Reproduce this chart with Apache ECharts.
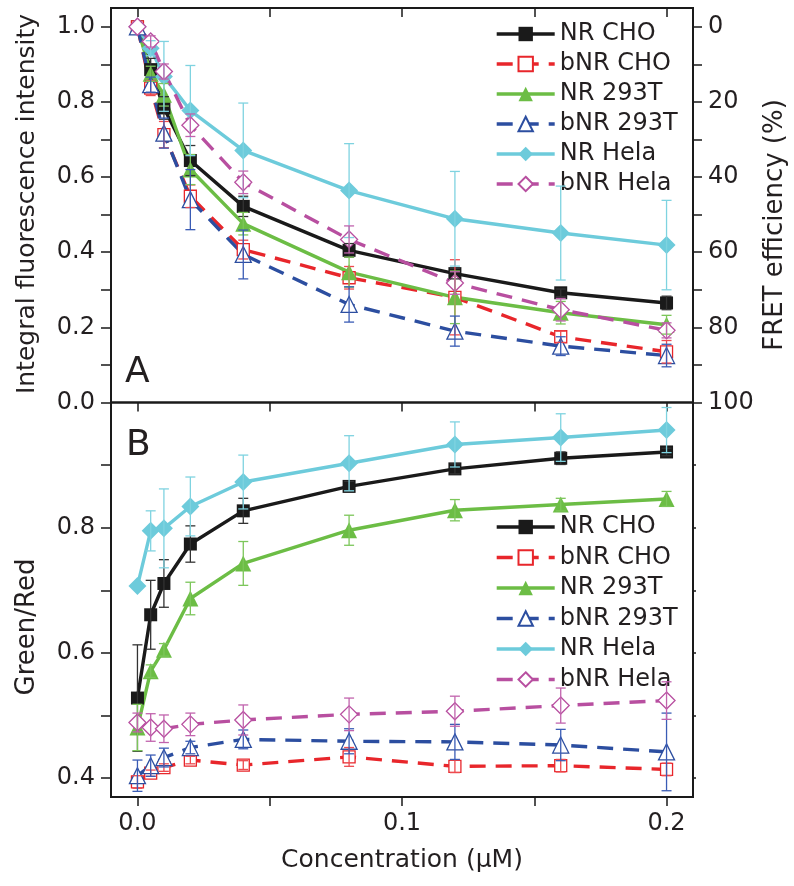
<!DOCTYPE html>
<html><head><meta charset="utf-8">
<script src="https://cdn.jsdelivr.net/npm/echarts@6/dist/echarts.min.js"></script>
<style>html,body{margin:0;padding:0;background:#fff}#c{width:794px;height:886px}</style>
</head><body><div id="c"></div>
<script>
// ---- data ----
const concentration = [0, 0.005, 0.01, 0.02, 0.04, 0.08, 0.12, 0.16, 0.2];
const seriesNames = ['NR CHO', 'bNR CHO', 'NR 293T', 'bNR 293T', 'NR Hela', 'bNR Hela'];

// Panel A: integral fluorescence intensity (mean, error)
const intNRCHO      = [1.0, 0.886, 0.784, 0.644, 0.522, 0.405, 0.343, 0.292, 0.265];
const intNRCHOErr   = [0, 0.03, 0.03, 0.04, 0.027, 0.018, 0.014, 0.01, 0.018];
const intBNRCHO     = [1.0, 0.837, 0.713, 0.549, 0.407, 0.332, 0.280, 0.175, 0.135];
const intBNRCHOErr  = [0, 0.02, 0.035, 0.03, 0.025, 0.03, 0.1, 0.015, 0.03];
const intNR293T     = [1.0, 0.875, 0.819, 0.620, 0.476, 0.347, 0.280, 0.239, 0.207];
const intNR293TErr  = [0, 0.02, 0.03, 0.04, 0.03, 0.04, 0.07, 0.03, 0.025];
const intBNR293T    = [1.0, 0.846, 0.717, 0.540, 0.394, 0.261, 0.190, 0.150, 0.125];
const intBNR293TErr = [0, 0.02, 0.04, 0.08, 0.065, 0.047, 0.04, 0.025, 0.03];
const intNRHela     = [1.0, 0.943, 0.868, 0.777, 0.671, 0.564, 0.489, 0.451, 0.419];
const intNRHelaErr  = [0, 0.02, 0.093, 0.12, 0.126, 0.125, 0.126, 0.125, 0.119];
const intBNRHela    = [1.0, 0.961, 0.881, 0.738, 0.586, 0.434, 0.318, 0.247, 0.192];
const intBNRHelaErr = [0, 0.015, 0.02, 0.03, 0.03, 0.036, 0.03, 0.03, 0.02];

// Panel B: green/red ratio (mean, error)
const grNRCHO      = [0.528, 0.661, 0.711, 0.774, 0.827, 0.866, 0.894, 0.911, 0.921];
const grNRCHOErr   = [0.085, 0.055, 0.038, 0.029, 0.02, 0.008, 0.008, 0.01, 0.006];
const grBNRCHO     = [0.394, 0.408, 0.417, 0.429, 0.421, 0.434, 0.419, 0.420, 0.414];
const grBNRCHOErr  = [0.01, 0.005, 0.006, 0.006, 0.007, 0.015, 0.01, 0.01, 0.01];
const grNR293T     = [0.481, 0.571, 0.605, 0.687, 0.743, 0.796, 0.828, 0.837, 0.846];
const grNR293TErr  = [0.037, 0.01, 0.01, 0.026, 0.035, 0.024, 0.017, 0.01, 0.012];
const grBNR293T    = [0.404, 0.420, 0.433, 0.449, 0.462, 0.459, 0.458, 0.453, 0.442];
const grBNR293TErr = [0.025, 0.017, 0.015, 0.01, 0.015, 0.02, 0.028, 0.025, 0.062];
const grNRHela     = [0.707, 0.795, 0.799, 0.834, 0.873, 0.903, 0.933, 0.944, 0.956];
const grNRHelaErr  = [0, 0.032, 0.063, 0.047, 0.043, 0.044, 0.036, 0.038, 0.036];
const grBNRHela    = [0.489, 0.481, 0.479, 0.486, 0.493, 0.502, 0.507, 0.516, 0.524];
const grBNRHelaErr = [0.015, 0.022, 0.022, 0.018, 0.024, 0.026, 0.024, 0.028, 0.03];

// tick values
const xTickValues = [0, 0.05, 0.1, 0.15, 0.2];
const xLabelValues = [0, 0.1, 0.2];
const intTickValues = [0, 0.1, 0.2, 0.3, 0.4, 0.5, 0.6, 0.7, 0.8, 0.9, 1.0];
const intLabelValues = [0, 0.2, 0.4, 0.6, 0.8, 1.0];
const fretTickValues = [0, 10, 20, 30, 40, 50, 60, 70, 80, 90, 100];
const fretLabelValues = [0, 20, 40, 60, 80, 100];
const grTickValues = [0.4, 0.5, 0.6, 0.7, 0.8, 0.9];
const grLabelValues = [0.4, 0.6, 0.8];

// ---- styles ----
const FONT = "'DejaVu Sans', sans-serif";
const TXT = '#231f20';
const styles = [
  {color: '#1a1a1a', symbol: 'rect', size: 13, dashed: false, hollow: false, err: '#333333'},
  {color: '#e8262b', symbol: 'rect', size: 12, dashed: true, hollow: true, err: '#ee4a4f'},
  {color: '#6cbd45', symbol: 'triangle', size: 16, dashed: false, hollow: false, err: '#7cc65a'},
  {color: '#2c4ea0', symbol: 'triangle', size: 16, dashed: true, hollow: true, err: '#3a5cb5'},
  {color: '#6dcbdb', symbol: 'diamond', size: 18, dashed: false, hollow: false, err: '#7fd3e0'},
  {color: '#b84fa0', symbol: 'diamond', size: 17, dashed: true, hollow: true, err: '#c163ad'}
];
const panelA = [[intNRCHO, intNRCHOErr], [intBNRCHO, intBNRCHOErr], [intNR293T, intNR293TErr],
                [intBNR293T, intBNR293TErr], [intNRHela, intNRHelaErr], [intBNRHela, intBNRHelaErr]];
const panelB = [[grNRCHO, grNRCHOErr], [grBNRCHO, grBNRCHOErr], [grNR293T, grNR293TErr],
                [grBNR293T, grBNR293TErr], [grNRHela, grNRHelaErr], [grBNRHela, grBNRHelaErr]];

function errRender(params, api) {
  const x = api.value(0), lo = api.value(1), hi = api.value(2);
  if (!(hi - lo > 0)) return null;
  const a = api.coord([x, hi]), b = api.coord([x, lo]);
  const w = 5;
  const st = {stroke: api.visual('color'), lineWidth: 1.3};
  return {type: 'group', children: [
    {type: 'line', shape: {x1: a[0], y1: a[1], x2: b[0], y2: b[1]}, style: st},
    {type: 'line', shape: {x1: a[0] - w, y1: a[1], x2: a[0] + w, y2: a[1]}, style: st},
    {type: 'line', shape: {x1: b[0] - w, y1: b[1], x2: b[0] + w, y2: b[1]}, style: st}
  ]};
}

const series = [];
function addPanel(panel, xIdx, yIdx) {
  panel.forEach((pair, i) => {
    const s = styles[i];
    series.push({
      name: seriesNames[i], type: 'line', xAxisIndex: xIdx, yAxisIndex: yIdx,
      data: concentration.map((c, k) => [c, pair[0][k]]),
      symbol: s.symbol, symbolSize: s.size, showSymbol: true,
      lineStyle: {color: s.color, width: 3.4, type: s.dashed ? [16, 10] : 'solid'},
      itemStyle: {color: s.hollow ? '#ffffff' : s.color, borderColor: s.color, borderWidth: s.hollow ? 1.3 : 0},
      z: 3, animation: false
    });
  });
  panel.forEach((pair, i) => {
    const s = styles[i];
    series.push({
      type: 'custom', xAxisIndex: xIdx, yAxisIndex: yIdx,
      data: concentration.map((c, k) => [c, pair[0][k] - pair[1][k], pair[0][k] + pair[1][k]]),
      renderItem: errRender, itemStyle: {color: s.err}, z: 4, animation: false, silent: true
    });
  });
}
addPanel(panelA, 0, 0);
addPanel(panelB, 1, 2);

const axisText = {fontSize: 24, fontFamily: FONT, color: TXT};
const tickStyle = {color: '#1a1a1a', width: 1.5};
const noLine = {show: false, onZero: false};

const legendBase = {
  orient: 'vertical', left: 490, itemWidth: 58, itemHeight: 18,
  data: seriesNames, selectedMode: false,
  lineStyle: {width: 3.4},
  textStyle: {fontSize: 24, fontFamily: FONT, color: TXT, lineHeight: 24}
};

const option = {
  animation: false,
  backgroundColor: '#ffffff',
  grid: [
    {left: 111, top: 8, width: 582, height: 394.5, show: true, borderColor: '#1a1a1a', borderWidth: 2, backgroundColor: 'transparent'},
    {left: 111, top: 402.5, width: 582, height: 394.5, show: true, borderColor: '#1a1a1a', borderWidth: 2, backgroundColor: 'transparent'}
  ],
  xAxis: [
    {type: 'value', gridIndex: 0, position: 'top', min: -0.01, max: 0.21,
     axisLine: noLine, splitLine: {show: false},
     axisTick: {show: true, inside: true, length: 9, lineStyle: tickStyle, customValues: xTickValues},
     axisLabel: {show: false}},
    {type: 'value', gridIndex: 1, position: 'bottom', min: -0.01, max: 0.21,
     axisLine: noLine, splitLine: {show: false},
     axisTick: {show: true, inside: false, length: 9, lineStyle: tickStyle, customValues: xTickValues},
     axisLabel: Object.assign({show: true, margin: 15, customValues: xLabelValues, formatter: v => v.toFixed(1)}, axisText)},
    {type: 'value', gridIndex: 1, position: 'top', min: -0.01, max: 0.21,
     axisLine: noLine, splitLine: {show: false},
     axisTick: {show: true, inside: true, length: 9, lineStyle: tickStyle, customValues: xTickValues},
     axisLabel: {show: false}}
  ],
  yAxis: [
    {type: 'value', gridIndex: 0, position: 'left', min: 0, max: 1.05,
     axisLine: noLine, splitLine: {show: false},
     axisTick: {show: true, inside: false, length: 10, lineStyle: tickStyle, customValues: intTickValues},
     axisLabel: Object.assign({show: true, margin: 16, customValues: intLabelValues, formatter: v => v.toFixed(1)}, axisText)},
    {type: 'value', gridIndex: 0, position: 'right', min: -5, max: 100, inverse: true,
     axisLine: noLine, splitLine: {show: false},
     axisTick: {show: true, inside: false, length: 9, lineStyle: tickStyle, customValues: fretTickValues},
     axisLabel: Object.assign({show: true, margin: 15, customValues: fretLabelValues, formatter: v => String(Math.round(v))}, axisText)},
    {type: 'value', gridIndex: 1, position: 'left', min: 0.37, max: 1.0,
     axisLine: noLine, splitLine: {show: false},
     axisTick: {show: true, inside: false, length: 10, lineStyle: tickStyle, customValues: grTickValues},
     axisLabel: Object.assign({show: true, margin: 16, customValues: grLabelValues, formatter: v => v.toFixed(1)}, axisText)},
    {type: 'value', gridIndex: 1, position: 'right', min: 0.37, max: 1.0,
     axisLine: noLine, splitLine: {show: false},
     axisTick: {show: true, inside: false, length: 3, lineStyle: tickStyle, customValues: grTickValues},
     axisLabel: {show: false}}
  ],
  legend: [
    Object.assign({top: 17, itemGap: 6}, legendBase),
    Object.assign({top: 510, itemGap: 6.5}, legendBase)
  ],
  graphic: [
    {type: 'text', x: 27, y: 204, rotation: Math.PI / 2,
     style: {text: 'Integral fluorescence intensity', font: '25px ' + FONT, fill: TXT, textAlign: 'center', textVerticalAlign: 'middle'}},
    {type: 'text', x: 27, y: 627, rotation: Math.PI / 2,
     style: {text: 'Green/Red', font: '26px ' + FONT, fill: TXT, textAlign: 'center', textVerticalAlign: 'middle'}},
    {type: 'text', x: 775, y: 225, rotation: Math.PI / 2,
     style: {text: 'FRET efficiency (%)', font: '26px ' + FONT, fill: TXT, textAlign: 'center', textVerticalAlign: 'middle'}},
    {type: 'text', x: 402, y: 860,
     style: {text: 'Concentration (\u00b5M)', font: '25px ' + FONT, fill: TXT, textAlign: 'center', textVerticalAlign: 'middle'}},
    {type: 'text', x: 125, y: 373,
     style: {text: 'A', font: '36px ' + FONT, fill: TXT, textAlign: 'left', textVerticalAlign: 'middle'}},
    {type: 'text', x: 126, y: 446,
     style: {text: 'B', font: '36px ' + FONT, fill: TXT, textAlign: 'left', textVerticalAlign: 'middle'}}
  ],
  series: series
};

const chart = echarts.init(document.getElementById('c'), null, {renderer: 'canvas'});
chart.setOption(option);
</script>
</body></html>
